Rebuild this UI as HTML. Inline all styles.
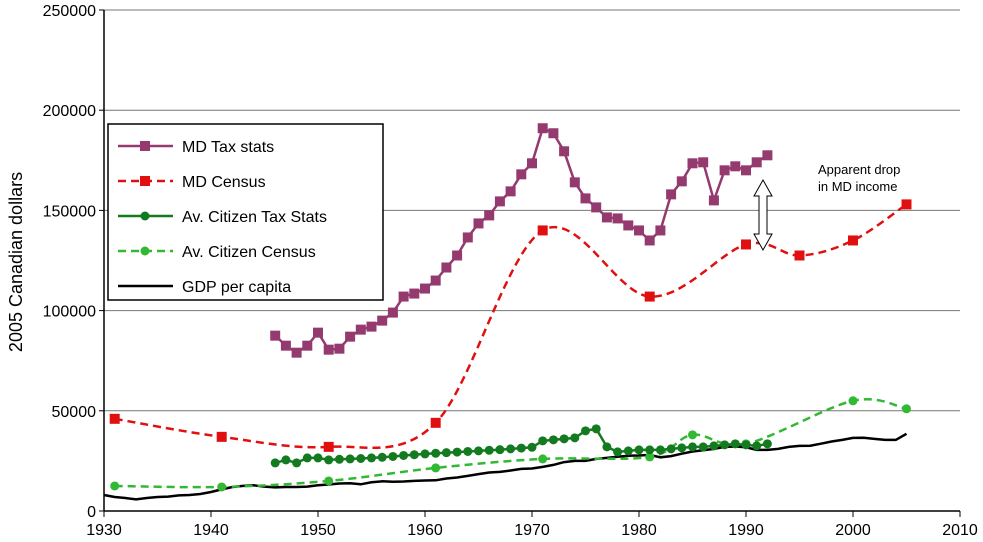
<!DOCTYPE html>
<html><head><meta charset="utf-8"><style>
body{margin:0;background:#fff;}
svg{display:block;font-family:"Liberation Sans",Arial,sans-serif;}
</style></head><body>
<svg id="chart" width="983" height="542" viewBox="0 0 983 542" xmlns="http://www.w3.org/2000/svg">
<g id="grid"></g>
<g id="axes"></g>
<g id="series"></g>
<text transform="translate(22,262) rotate(-90)" text-anchor="middle" font-size="18">2005 Canadian dollars</text>
<g>
<path d="M763,180 L772,196 L767,196 L767,234 L772,234 L763,250 L754,234 L759,234 L759,196 L754,196 Z" fill="#fff" stroke="#000" stroke-width="1"/>
<text x="818" y="174" font-size="13">Apparent drop</text>
<text x="818" y="191" font-size="13">in MD income</text>
</g>
<g>
<rect x="108" y="124" width="275" height="176" fill="#fff" stroke="#000" stroke-width="1.5"/>
</g>
<g id="legend-entries"></g>
</svg>
<script>
const yTicks=[0,50000,100000,150000,200000,250000];
const xTicks=[1930,1940,1950,1960,1970,1980,1990,2000,2010];
const mdTaxYears=[1946,1947,1948,1949,1950,1951,1952,1953,1954,1955,1956,1957,1958,1959,1960,1961,1962,1963,1964,1965,1966,1967,1968,1969,1970,1971,1972,1973,1974,1975,1976,1977,1978,1979,1980,1981,1982,1983,1984,1985,1986,1987,1988,1989,1990,1991,1992];
const mdTaxValues=[87500,82500,79000,82500,89000,80500,81000,87000,90500,92000,95000,99000,107000,108500,111000,115000,121500,127500,136500,143500,147500,154500,159500,168000,173500,191000,188500,179500,164000,156000,151500,146500,146000,142500,140000,135000,140000,158000,164500,173500,174000,155000,170000,172000,170000,174000,177500];
const mdCensusYears=[1931,1941,1951,1961,1971,1981,1990,1995,2000,2005];
const mdCensusValues=[46000,37000,32000,44000,140000,107000,133000,127500,135000,153000];
const avTaxYears=mdTaxYears;
const avTaxValues=[24000,25500,24000,26500,26500,25500,25800,26000,26200,26500,26800,27200,27700,28100,28500,28800,29100,29400,29700,30000,30300,30600,31000,31400,31800,35000,35500,36000,36500,40000,41000,32000,29500,30000,30500,30500,30500,31000,31500,32000,32000,32500,33000,33500,33000,32500,33500];
const avCensusYears=[1931,1941,1951,1961,1971,1981,1985,1990,2000,2005];
const avCensusValues=[12500,12000,15000,21500,26000,27000,38000,33500,55000,51000];
const gdpYears=[];for(let y=1930;y<=2005;y++)gdpYears.push(y);
const gdpValues=[8000,7000,6500,5800,6500,7000,7200,7800,8000,8500,9500,10800,12000,12500,12800,12200,11800,12000,12000,12200,12800,13200,13700,13800,13300,14300,14800,14600,14700,15000,15200,15300,16200,16700,17500,18400,19200,19500,20200,21000,21200,22000,23000,24400,25000,25000,26000,26500,27100,27600,27700,28000,26800,27400,28600,29700,30300,31000,32000,32200,31800,30500,30500,31000,32000,32500,32600,33600,34700,35500,36500,36600,36000,35500,35500,38500];

const NS='http://www.w3.org/2000/svg';
const X0=104,X1=960,Y0=511,Y1=10;
const xs=v=>X0+(v-1930)/(2010-1930)*(X1-X0);
const ys=v=>Y0-v/250000*(Y0-Y1);
function mk(tag,attrs,parent){const e=document.createElementNS(NS,tag);for(const k in attrs)e.setAttribute(k,attrs[k]);parent.appendChild(e);return e;}
const grid=document.getElementById('grid'),axes=document.getElementById('axes'),ser=document.getElementById('series'),leg=document.getElementById('legend-entries');
yTicks.forEach(t=>{
 if(t>0){const g=mk('line',{x1:X0,x2:X1,y1:ys(t),y2:ys(t),stroke:'#777','stroke-width':1},grid);
 
 }
 const tk=mk('line',{x1:X0-5,x2:X0,y1:ys(t),y2:ys(t),stroke:'#000'},axes);
 const l=mk('text',{x:X0-8,y:ys(t)+6,'text-anchor':'end','font-size':16},axes);l.textContent=t;
 
 
});
xTicks.forEach(t=>{
 mk('line',{x1:xs(t),x2:xs(t),y1:Y0,y2:Y0+6,stroke:'#000'},axes);
 const l=mk('text',{x:xs(t),y:Y0+24,'text-anchor':'middle','font-size':16},axes);l.textContent=t;
 
 
});
mk('line',{x1:X0,x2:X0,y1:Y1,y2:Y0,stroke:'#000','stroke-width':1.5},axes);
mk('line',{x1:X0,x2:X1,y1:Y0,y2:Y0,stroke:'#000','stroke-width':1.5},axes);

function linePath(p){return p.map((q,i)=>(i?'L':'M')+q[0].toFixed(1)+','+q[1].toFixed(1)).join(' ');}
function smoothPath(p){let d='M'+p[0][0]+','+p[0][1];for(let i=0;i<p.length-1;i++){const a=p[i-1]||p[i],b=p[i],c=p[i+1],e=p[i+2]||c;
 const c1=[b[0]+(c[0]-a[0])/6,b[1]+(c[1]-a[1])/6],c2=[c[0]-(e[0]-b[0])/6,c[1]-(e[1]-b[1])/6];
 d+=' C'+c1.join(',')+' '+c2.join(',')+' '+c.join(',');}return d;}
function series(name,years,vals,color,dash,smooth,marker,w){
 const g=mk('g',{},ser);
 
 
 const p=years.map((y,i)=>[xs(y),ys(vals[i])]);
 mk('path',{d:smooth?smoothPath(p):linePath(p),fill:'none',stroke:color,'stroke-width':w,'stroke-dasharray':dash||'none'},g);
 if(marker)p.forEach(q=>{
  const m=marker==='sq'?mk('rect',{x:q[0]-5,y:q[1]-5,width:10,height:10,fill:color},g):mk('circle',{cx:q[0],cy:q[1],r:4.5,fill:color},g);
  
  
 });
}
series('gdp-per-capita-line',gdpYears,gdpValues,'#000',null,false,null,2.5);
series('av-citizen-census-line',avCensusYears,avCensusValues,'#33b833','8,5',true,'c',2.5);
series('av-citizen-tax-line',avTaxYears,avTaxValues,'#137a1f',null,false,'c',2.5);
series('md-census-line',mdCensusYears,mdCensusValues,'#e01010','8,5',true,'sq',2.5);
series('md-tax-line',mdTaxYears,mdTaxValues,'#953a6f',null,false,'sq',2.5);

const legendItems=[['MD Tax stats','#953a6f',null,'sq'],['MD Census','#e01010','8,5','sq'],['Av. Citizen Tax Stats','#137a1f',null,'c'],['Av. Citizen Census','#33b833','8,5','c'],['GDP per capita','#000',null,null]];
const legendY=[146,181,216,251,286];
legendItems.forEach((it,i)=>{
 const g=mk('g',{},leg);
 
 
 const y=legendY[i];
 mk('line',{x1:118,x2:173,y1:y,y2:y,stroke:it[1],'stroke-width':2.5,'stroke-dasharray':it[2]||'none'},g);
 if(it[3]==='sq')mk('rect',{x:140,y:y-5,width:10,height:10,fill:it[1]},g);
 if(it[3]==='c')mk('circle',{cx:145,cy:y,r:4.5,fill:it[1]},g);
 const t=mk('text',{x:182,y:y+6,'font-size':16},g);t.textContent=it[0];
});
</script>
</body></html>
